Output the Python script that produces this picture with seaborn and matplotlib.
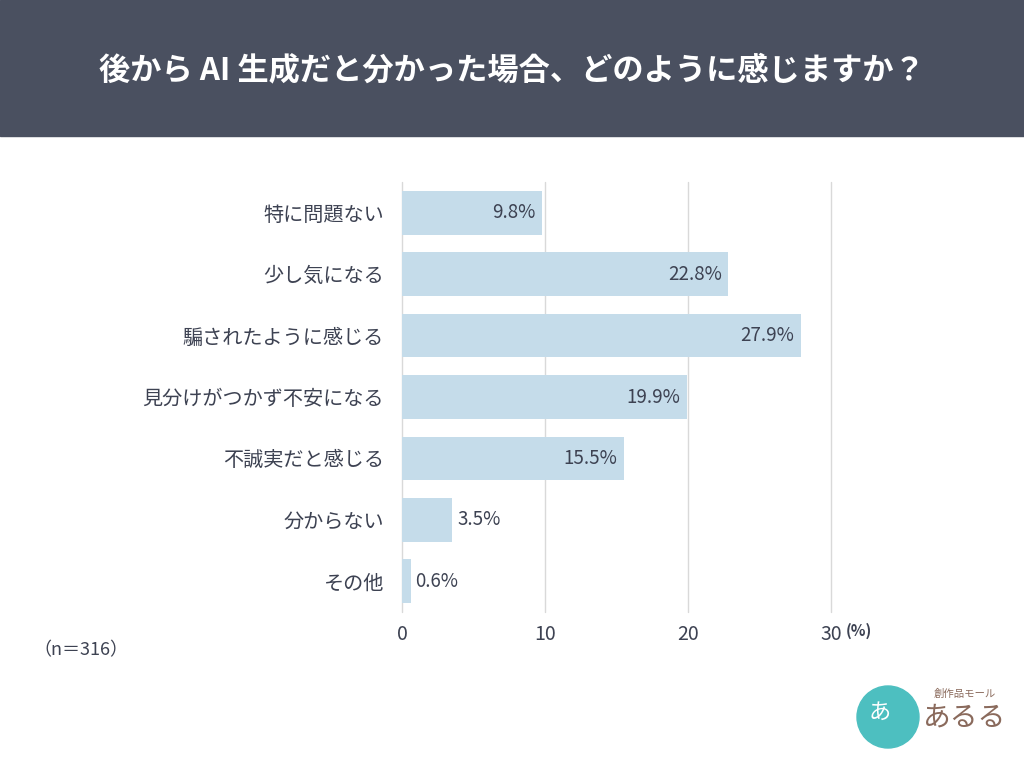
import matplotlib
matplotlib.use("Agg")
import matplotlib.pyplot as plt
import matplotlib.patches as mpatches
import seaborn as sns
import pandas as pd

categories = ["特に問題ない", "少し気になる", "騙されたように感じる", "見分けがつかず不安になる",
              "不誠実だと感じる", "分からない", "その他"]
values = [9.8, 22.8, 27.9, 19.9, 15.5, 3.5, 0.6]
xticks = [0, 10, 20, 30]
title = "後から AI 生成だと分かった場合、どのように感じますか？"
note = "（n＝316）"

sns.set_theme(style="white")
plt.rcParams['font.family'] = ['Noto Sans CJK JP', 'DejaVu Sans']

TEXT = "#3d4252"
BAR = "#c5dcea"
HEAD = "#4a5060"

fig = plt.figure(figsize=(10.24, 7.68), dpi=100)
W, H = 1024, 768

# header band
fig.patches.append(mpatches.Rectangle((0, 1 - 136 / H), 1, 136 / H, transform=fig.transFigure,
                                      color=HEAD, zorder=0))
fig.text(0.5, 1 - 70 / H, title, color="white", fontsize=22.5, fontweight="bold",
         ha="center", va="center")

ax = fig.add_axes([402 / W, 1 - 612 / H, (831 - 402) / W, (612 - 182) / H])
df = pd.DataFrame({"cat": categories, "val": values})
sns.barplot(data=df, x="val", y="cat", color=BAR, saturation=1, width=0.71, ax=ax, zorder=2,
            linewidth=0, edgecolor="none")
ax.set_xlim(0, 30)
ax.set_ylim(6.5, -0.5)
ax.set_xticks(xticks)
ax.set_xticklabels([str(t) for t in xticks], fontsize=14, color=TEXT)
ax.tick_params(axis="x", length=0, pad=9)
ax.tick_params(axis="y", length=0, pad=13, labelsize=14.5, labelcolor=TEXT)
ax.set_xlabel("")
ax.set_ylabel("")
for s in ax.spines.values():
    s.set_visible(False)
for t in xticks:
    ax.axvline(t, color="#d9d9d9", lw=1.0, zorder=1, clip_on=False)
ax.set_axisbelow(True)

for i, v in enumerate(values):
    if v >= 8:
        ax.text(v - 0.45, i, f"{v}%", ha="right", va="center", fontsize=13.5, color=TEXT, zorder=3)
    else:
        ax.text(v + 0.35, i, f"{v}%", ha="left", va="center", fontsize=13.5, color=TEXT, zorder=3)

fig.text(846 / W, 1 - 631 / H, "(%)", fontsize=11, fontweight="bold", color=TEXT, ha="left", va="center")
fig.text(33 / W, 1 - 650 / H, note, fontsize=13, color=TEXT, ha="left", va="center")

# logo approximation
fig.patches.append(mpatches.Ellipse((888 / W, 1 - 717 / H), 62 / W, 62 / H, transform=fig.transFigure,
                                    color="#4dbfc0", zorder=1))
fig.text(880 / W, 1 - 712 / H, "あ", fontsize=16, color="white", ha="center", va="center")
fig.text(965 / W, 1 - 694 / H, "創作品モール", fontsize=7.5, color="#8a6a5c", ha="center", va="center")
fig.text(965 / W, 1 - 718 / H, "あるる", fontsize=20, color="#8a6a5c", ha="center", va="center")

fig.savefig("out.png", dpi=100, facecolor="white")
